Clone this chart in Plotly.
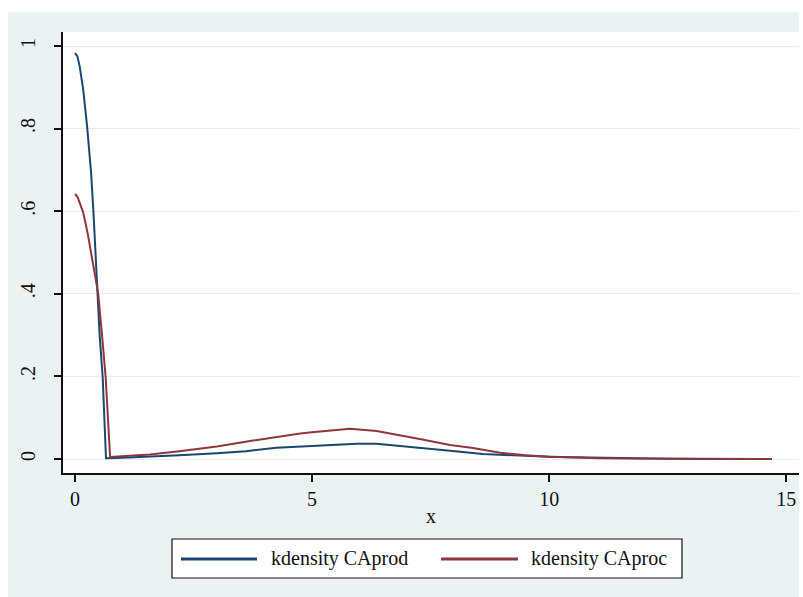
import plotly.graph_objects as go

# Kernel density estimates of CAprod and CAproc
prod_x = [0.0, 0.05, 0.1, 0.175, 0.26, 0.34, 0.39, 0.44, 0.47, 0.52, 0.584, 0.654,
          1.0, 1.58, 2.2, 2.99, 3.6, 4.25, 4.92, 5.4, 5.95, 6.36, 6.86, 7.2, 7.91,
          8.6, 8.97, 9.5, 10.0, 10.5, 11.08, 11.8, 12.5, 13.2, 14.0, 14.7]
prod_y = [0.983, 0.975, 0.95, 0.893, 0.80, 0.692, 0.596, 0.49, 0.41, 0.30, 0.198, 0.002,
          0.003, 0.0056, 0.009, 0.014, 0.019, 0.027, 0.031, 0.034, 0.037, 0.037, 0.032, 0.027, 0.020,
          0.012, 0.010, 0.007, 0.0055, 0.004, 0.0025, 0.0012, 0.0006, 0.0003, 0.0001, 0.0]

proc_x = [0.0, 0.05, 0.1, 0.175, 0.27, 0.365, 0.43, 0.49, 0.57, 0.647, 0.74,
          1.0, 1.58, 2.2, 2.99, 3.6, 4.25, 4.75, 5.0, 5.4, 5.8, 6.36, 6.86, 7.3, 7.91,
          8.36, 8.97, 9.5, 10.0, 10.5, 11.08, 11.8, 12.5, 13.2, 14.0, 14.7]
proc_y = [0.642, 0.635, 0.62, 0.596, 0.545, 0.482, 0.44, 0.40, 0.30, 0.198, 0.005,
          0.007, 0.011, 0.019, 0.030, 0.042, 0.054, 0.062, 0.065, 0.069, 0.073, 0.068, 0.058, 0.048, 0.034,
          0.027, 0.015, 0.009, 0.0056, 0.0035, 0.0017, 0.001, 0.0005, 0.0003, 0.0001, 0.0]

series_names = ["kdensity CAprod", "kdensity CAproc"]
series_colors = ["#1a476f", "#90353b"]

y_ticks = [0, 0.2, 0.4, 0.6, 0.8, 1.0]
y_tick_text = ["0", ".2", ".4", ".6", ".8", "1"]
x_ticks = [0, 5, 10, 15]

W, H = 803, 597
M_L, M_R, M_T, M_B = 63, 4, 32, 124
PW, PH = W - M_L - M_R, H - M_T - M_B


def px_x(p):
    return (p - M_L) / PW


def px_y(p):
    return (H - M_B - p) / PH


BG = "#eaf2f3"
FONT = "Liberation Serif"

fig = go.Figure()
for xs, ys, name, color in zip([prod_x, proc_x], [prod_y, proc_y], series_names, series_colors):
    fig.add_trace(go.Scatter(x=xs, y=ys, mode="lines", name=name,
                             line=dict(color=color, width=2), showlegend=False))

shapes = [
    # outer graph region
    dict(type="rect", xref="paper", yref="paper", layer="below",
         x0=px_x(8), x1=px_x(799), y0=px_y(597), y1=px_y(12),
         fillcolor=BG, line=dict(width=0)),
    # plot region
    dict(type="rect", xref="paper", yref="paper", layer="below",
         x0=0, x1=1, y0=0, y1=1, fillcolor="white", line=dict(width=0)),
    # legend box
    dict(type="rect", xref="paper", yref="paper",
         x0=px_x(172), x1=px_x(682), y0=px_y(578), y1=px_y(539),
         fillcolor="white", line=dict(color="#111", width=1.2)),
]
annotations = []
legend_keys = [(181, 257, 269), (441, 518, 529)]
for (k0, k1, tx), name, color in zip(legend_keys, series_names, series_colors):
    shapes.append(dict(type="line", xref="paper", yref="paper",
                       x0=px_x(k0), x1=px_x(k1), y0=px_y(559), y1=px_y(559),
                       line=dict(color=color, width=3)))
    annotations.append(dict(xref="paper", yref="paper", x=px_x(tx), y=px_y(558),
                            text=name, showarrow=False, xanchor="left", yanchor="middle",
                            font=dict(family=FONT, size=20, color="#111")))

fig.update_layout(
    width=W, height=H,
    margin=dict(l=M_L, r=M_R, t=M_T, b=M_B),
    paper_bgcolor="white", plot_bgcolor="white",
    font=dict(family=FONT, size=20, color="#111"),
    shapes=shapes, annotations=annotations,
    showlegend=False,
)
fig.update_xaxes(
    range=[-0.253, 15.27], tickvals=x_ticks, ticks="outside", ticklen=7, tickwidth=1.5,
    tickcolor="#111", showline=True, linecolor="#111", linewidth=2, showgrid=False,
    zeroline=False, title=dict(text="x", standoff=0, font=dict(family=FONT, size=20)),
    tickfont=dict(family=FONT, size=20),
)
fig.update_yaxes(
    range=[-0.0339, 1.0339], tickvals=y_ticks, ticktext=y_tick_text, tickangle=-90,
    ticks="outside", ticklen=7, tickwidth=1.5, tickcolor="#111", ticklabelstandoff=11,
    showline=True, linecolor="#111", linewidth=2, showgrid=True, gridcolor="#e6eef0",
    gridwidth=1.2, zeroline=False, tickfont=dict(family=FONT, size=20),
)

fig.write_html("out.html")
